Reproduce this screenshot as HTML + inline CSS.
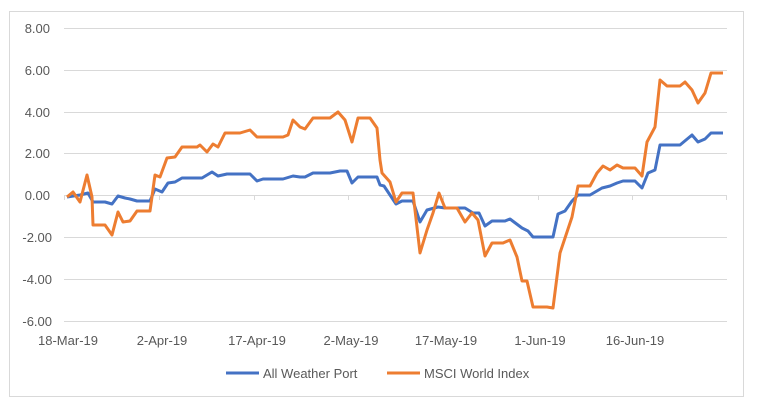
<!DOCTYPE html>
<html><head><meta charset="utf-8"><style>
html,body{margin:0;padding:0;background:#fff;}
svg{display:block;font-family:"Liberation Sans",Calibri,sans-serif;}
</style></head><body>
<svg width="759" height="407" viewBox="0 0 759 407" xmlns="http://www.w3.org/2000/svg">
<rect x="9.5" y="11.5" width="734" height="385" fill="#fff" stroke="#d9d9d9"/>
<g stroke="#d9d9d9" stroke-width="1">
<line x1="64" x2="727" y1="28.5" y2="28.5"/>
<line x1="64" x2="727" y1="70.5" y2="70.5"/>
<line x1="64" x2="727" y1="112.5" y2="112.5"/>
<line x1="64" x2="727" y1="153.5" y2="153.5"/>
<line x1="64" x2="727" y1="237.5" y2="237.5"/>
<line x1="64" x2="727" y1="279.5" y2="279.5"/>
<line x1="64" x2="727" y1="321.5" y2="321.5"/>
<line x1="64" x2="727" y1="195.5" y2="195.5"/>
<line x1="64.5" x2="64.5" y1="195" y2="200"/>
<line x1="159.5" x2="159.5" y1="195" y2="200"/>
<line x1="254.5" x2="254.5" y1="195" y2="200"/>
<line x1="348.5" x2="348.5" y1="195" y2="200"/>
<line x1="443.5" x2="443.5" y1="195" y2="200"/>
<line x1="538.5" x2="538.5" y1="195" y2="200"/>
<line x1="632.5" x2="632.5" y1="195" y2="200"/>
<line x1="726.5" x2="726.5" y1="195" y2="200"/>
</g>
<g fill="#595959" font-size="13" text-anchor="end">
<text x="50" y="33">8.00</text>
<text x="50" y="75">6.00</text>
<text x="50" y="117">4.00</text>
<text x="50" y="158">2.00</text>
<text x="50" y="200">0.00</text>
<text x="52" y="242">-2.00</text>
<text x="52" y="284">-4.00</text>
<text x="52" y="326">-6.00</text>
</g>
<g fill="#595959" font-size="13" text-anchor="middle">
<text x="68" y="345">18-Mar-19</text>
<text x="162" y="345">2-Apr-19</text>
<text x="257" y="345">17-Apr-19</text>
<text x="351" y="345">2-May-19</text>
<text x="446" y="345">17-May-19</text>
<text x="540" y="345">1-Jun-19</text>
<text x="635" y="345">16-Jun-19</text>
</g>
<polyline fill="none" stroke="#4472c4" stroke-width="3" stroke-linejoin="round" points="67,197 80,195 88,193 93,202 105,202 112,204 118,196 125,198 130,199 137,201 150,201 155,189 162,192 168,183 175,182 182,178 202,178 212,172 218,176 227,174 250,174 257,181 263,179 283,179 293,176 300,177 305,177 313,173 330,173 340,171 347,171 352,183 358,177 377,177 380,185 384,186 388,192 396,204 402,201 413,201 420,222 427,210 438,207 445,208 465,208 473,213 479,213 485,226 492,221 505,221 510,219 522,228 528,231 533,237 553,237 558,214 565,211 572,201 578,195 590,195 602,188 610,186 617,183 623,181 635,181 642,188 648,173 655,170 660,145 680,145 692,135 698,142 705,139 711,133 723,133"/>
<polyline fill="none" stroke="#ed7d31" stroke-width="3" stroke-linejoin="round" points="67,197 73,192 80,202 87,175 92,197 93,225 105,225 112,235 118,212 123,222 130,221 137,211 150,211 155,175 160,177 167,158 175,157 182,147 197,147 200,145 207,152 213,144 218,147 225,133 240,133 250,130 257,137 283,137 288,135 293,120 300,127 305,129 313,118 330,118 338,112 345,120 352,142 358,118 370,118 377,128 380,160 382,173 390,182 396,202 402,193 413,193 420,253 427,230 433,213 439,193 445,208 457,208 465,222 472,213 478,220 485,256 492,243 503,243 510,240 517,257 522,281 527,281 533,307 547,307 553,308 560,253 572,217 578,186 590,186 597,173 603,166 610,170 617,165 623,168 635,168 642,176 647,142 655,127 660,80 667,86 680,86 685,82 692,90 698,103 705,93 711,73 723,73"/>
<line x1="226" x2="259" y1="373" y2="373" stroke="#4472c4" stroke-width="3"/>
<text x="263" y="378" fill="#595959" font-size="13">All Weather Port</text>
<line x1="387" x2="420" y1="373" y2="373" stroke="#ed7d31" stroke-width="3"/>
<text x="424" y="378" fill="#595959" font-size="13">MSCI World Index</text>
</svg>
</body></html>
